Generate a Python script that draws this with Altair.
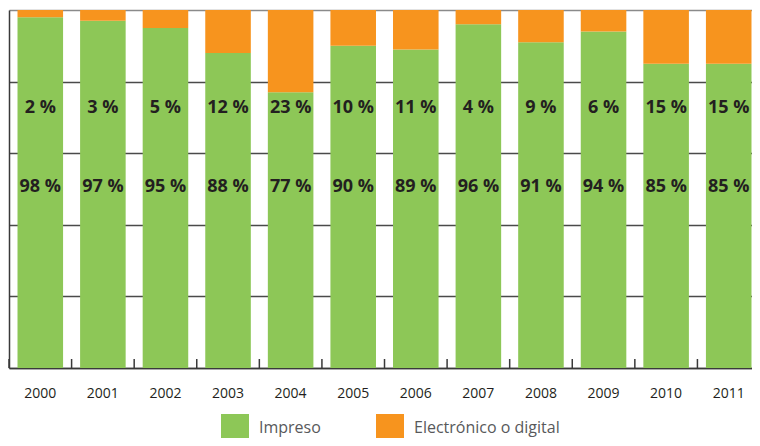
import altair as alt
import pandas as pd

years = ["2000", "2001", "2002", "2003", "2004", "2005", "2006", "2007", "2008", "2009", "2010", "2011"]
impreso = [98, 97, 95, 88, 77, 90, 89, 96, 91, 94, 85, 85]
digital = [2, 3, 5, 12, 23, 10, 11, 4, 9, 6, 15, 15]
series = ["Impreso", "Electrónico o digital"]
colors = ["#8dc757", "#f7941e"]

rows = []
for i, y in enumerate(years):
    rows.append({"year": y, "serie": series[0], "value": impreso[i], "orden": 0})
    rows.append({"year": y, "serie": series[1], "value": digital[i], "orden": 1})
df = pd.DataFrame(rows)

lab = pd.DataFrame({
    "year": years,
    "imp": [f"{v} %" for v in impreso],
    "dig": [f"{v} %" for v in digital],
})

xscale = alt.Scale(paddingInner=0.272, paddingOuter=0.136, range=[0, 751])
xenc = alt.X("year:N", scale=xscale, title=None,
             axis=alt.Axis(labelAngle=0, ticks=False, domain=True, domainColor="#3a3a3a",
                           domainWidth=1.5, labelFont="Open Sans", labelFontSize=14,
                           labelColor="#231f20", labelPadding=18, grid=False))

bars = alt.Chart(df).mark_bar().encode(
    x=xenc,
    y=alt.Y("value:Q", stack="zero", scale=alt.Scale(domain=[0, 100], nice=False), title=None,
            axis=alt.Axis(values=[0, 20, 40, 60, 80, 100], labels=False, ticks=False,
                          domain=True, domainColor="#3a3a3a", domainWidth=1.5,
                          grid=True, gridWidth=1.5,
                          gridColor={"condition": {"test": "datum.value === 100", "value": "#8a8a8a"},
                                     "value": "#4a4a4a"})),
    color=alt.Color("serie:N", scale=alt.Scale(domain=series, range=colors), sort=series,
                    legend=alt.Legend(title=None, orient="none", legendX=212, legendY=404,
                                      direction="horizontal", symbolType="square", symbolSize=784,
                                      symbolStrokeWidth=0, labelFont="Open Sans", labelFontSize=16,
                                      labelColor="#58595b", labelOffset=10, columnPadding=55,
                                      padding=0)),
    order=alt.Order("orden:Q", sort="ascending"),
)

ticks = alt.Chart(lab).mark_rule(color="#3a3a3a", strokeWidth=1.5, xOffset=-8.5).encode(
    x=alt.X("year:N", bandPosition=0),
    y=alt.value(349),
    y2=alt.value(358),
)

txt_dig = alt.Chart(lab).mark_text(font="Open Sans", fontWeight="bold", fontSize=18,
                                   color="#231f20", baseline="middle").encode(
    x=alt.X("year:N", bandPosition=0.5), y=alt.value(98), text="dig:N")
txt_imp = alt.Chart(lab).mark_text(font="Open Sans", fontWeight="bold", fontSize=18,
                                   color="#231f20", baseline="middle").encode(
    x=alt.X("year:N", bandPosition=0.5), y=alt.value(177), text="imp:N")

chart = alt.layer(bars, ticks, txt_dig, txt_imp).properties(
    width=743, height=358,
    padding={"left": 1, "top": 2, "right": 0, "bottom": 70},
    autosize=alt.AutoSizeParams(type="none"),
).configure_view(strokeWidth=0)

chart.save("out.html", embed_options={"renderer": "svg", "actions": False})
